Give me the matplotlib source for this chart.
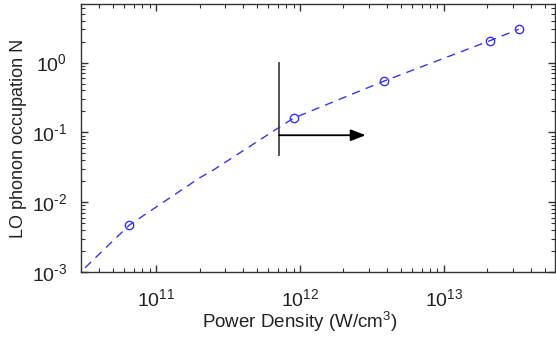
import numpy as np
import matplotlib
matplotlib.use('Agg')
import matplotlib.pyplot as plt
from matplotlib.ticker import FuncFormatter

# curve through the data (log-log), markers only on measured points
power = [3.2e10, 6.5e10, 2.0e11, 2.5e11, 7.1e11, 9.0e11, 3.8e12, 2.1e13, 3.3e13]
occupation = [1.15e-3, 4.7e-3, 0.0223, 0.029, 0.117, 0.16, 0.54, 2.07, 3.0]
marker_idx = [1, 5, 6, 7, 8]

threshold_x = 7.14e11
threshold_y = [0.048, 1.0]
arrow_y = 0.091
arrow_end = 2.85e12

plt.rcParams['font.family'] = ['Liberation Sans', 'DejaVu Sans']
plt.rcParams['mathtext.fontset'] = 'custom'
plt.rcParams['mathtext.rm'] = 'Liberation Sans'
plt.rcParams['mathtext.it'] = 'Liberation Sans'
plt.rcParams['mathtext.default'] = 'regular'


def pow10(v, pos):
    e = int(round(np.log10(v)))
    if e < 0:
        return r'$10^{\text{-}%d}$' % (-e)
    return r'$10^{%d}$' % e


fig = plt.figure(figsize=(5.56, 3.39), dpi=100)
ax = fig.add_axes([81 / 556, 1 - 272 / 339, (555 - 81) / 556, (272 - 4) / 339])

ax.plot(power, occupation, '--', color='#3333ff', lw=1.0, dashes=(6, 4.5),
        marker='o', markevery=marker_idx, markersize=6, markerfacecolor='none',
        markeredgecolor='#3333ff', markeredgewidth=1.0)

ax.plot([threshold_x, threshold_x], threshold_y, color='#444444', lw=1.3)
ax.annotate('', xy=(arrow_end, arrow_y), xytext=(threshold_x, arrow_y),
            arrowprops=dict(arrowstyle='-|>,head_length=0.9,head_width=0.35',
                            color='black', lw=1.3, shrinkA=0, shrinkB=0))

ax.set_xscale('log')
ax.set_yscale('log')
ax.set_xlim(3.0e10, 5.9e13)
ax.set_ylim(1e-3, 6.9)
ax.xaxis.set_major_formatter(FuncFormatter(pow10))
ax.yaxis.set_major_formatter(FuncFormatter(pow10))

for s in ax.spines.values():
    s.set_color('#333333')
    s.set_linewidth(1.0)

ax.tick_params(which='both', direction='in', top=True, right=True, color='#333333')
ax.tick_params(which='major', length=5, width=1.0, labelsize=14, labelcolor='#222222')
ax.tick_params(which='minor', length=3, width=0.8)
ax.tick_params(axis='x', which='major', pad=12)
ax.tick_params(axis='y', which='major', pad=10)

ax.set_xlabel('Power Density (W/cm$^3$)', fontsize=13.5, color='#222222')
ax.set_ylabel('LO phonon occupation N', fontsize=13, color='#222222')
ax.xaxis.set_label_coords((300 - 81) / 474, -(310 - 272) / 268)
ax.yaxis.set_label_coords(-(81 - 27) / 474, 0.5)

fig.savefig('out.png', dpi=100)
